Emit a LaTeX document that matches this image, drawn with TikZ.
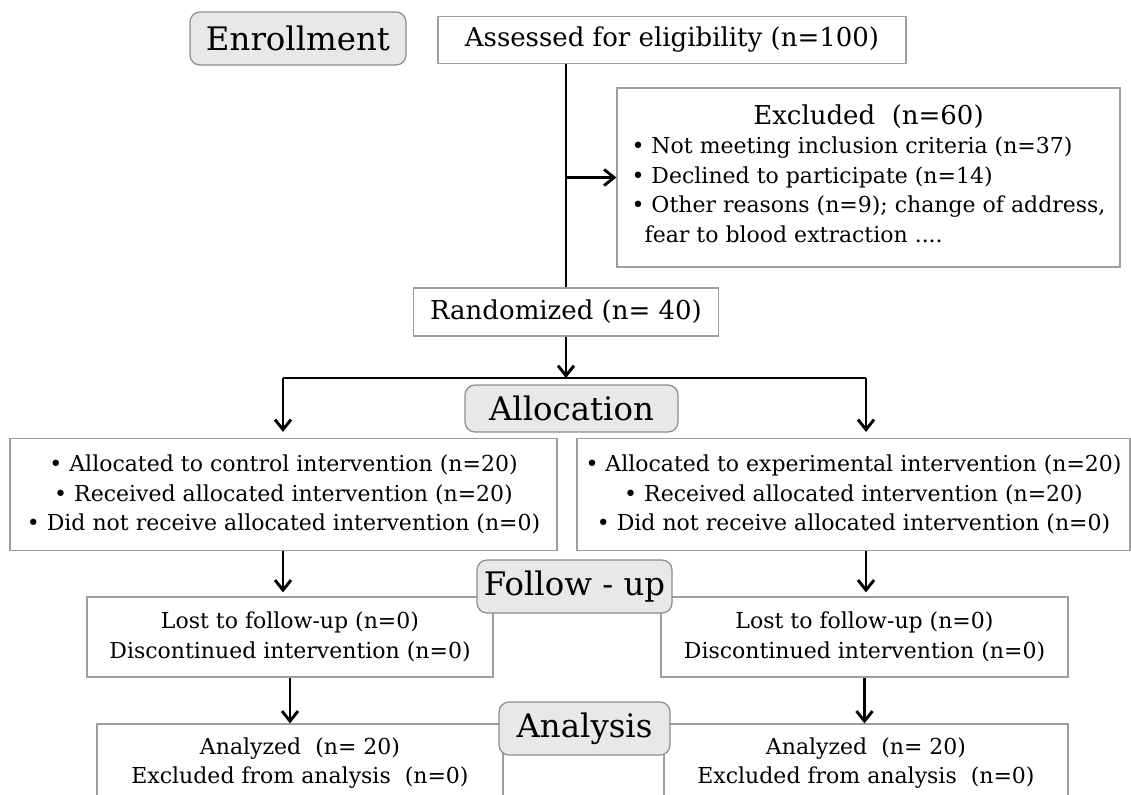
\documentclass[tikz,border=0pt]{standalone}
\usepackage{fontspec}
\setmainfont{DejaVu Serif}
\usetikzlibrary{arrows.meta}

\definecolor{boxgray}{gray}{0.62}
\definecolor{stagegray}{gray}{0.91}
\definecolor{stageline}{gray}{0.55}

\tikzset{
  box/.style={draw=boxgray, line width=0.6pt, fill=white, inner sep=0pt, align=center,
    font=\fontsize{11}{14.7}\selectfont},
  bigbox/.style={box, font=\fontsize{13}{15}\selectfont},
  stage/.style={draw=stageline, fill=stagegray, rounded corners=5pt, line width=0.6pt,
    inner sep=0pt, font=\fontsize{16.2}{19}\selectfont},
  trunk/.style={line width=1.45pt},
  flow/.style={trunk, -{Straight Barb[length=5pt,width=8pt]}}
}

\begin{document}
\begin{tikzpicture}[x=0.5pt, y=-0.5pt]
    \clip (0,0) rectangle (1131,794);

    \node[stage, minimum width=108pt, minimum height=26.5pt] (enroll) at (298,38.5) {Enrollment};
    \node[bigbox, minimum width=234pt, minimum height=23.5pt] (assess) at (672,40) {Assessed for eligibility (n=100)};
    \node[box, minimum width=251.5pt, minimum height=89.5pt] (excl) at (868.5,177.5) {%
        \begin{tabular}{@{}l@{}}
        \multicolumn{1}{@{}c@{}}{\fontsize{13}{14.7}\selectfont Excluded\ \ (n=60)}\\
        \textbullet\ Not meeting inclusion criteria (n=37)\\
        \textbullet\ Declined to participate (n=14)\\
        \textbullet\ Other reasons (n=9); change of address,\\
        \hspace*{0.6em}fear to blood extraction ....
        \end{tabular}};
    \node[bigbox, minimum width=152.5pt, minimum height=24pt] (rand) at (566,312) {Randomized (n= 40)};

    \node[box, minimum width=273.5pt, minimum height=56pt] (ctrl) at (283.5,494.5) {%
        \textbullet\ Allocated to control intervention (n=20)\\
        \textbullet\ Received allocated intervention (n=20)\\
        \textbullet\ Did not receive allocated intervention (n=0)};
    \node[box, minimum width=276.5pt, minimum height=56pt] (exper) at (853.5,494.5) {%
        \textbullet\ Allocated to experimental intervention (n=20)\\
        \textbullet\ Received allocated intervention (n=20)\\
        \textbullet\ Did not receive allocated intervention (n=0)};
    \node[stage, minimum width=106.5pt, minimum height=23.5pt] (alloc) at (571.5,408.5) {Allocation};

    \node[box, minimum width=203pt, minimum height=40pt] (lostL) at (290,637) {%
        Lost to follow-up (n=0)\\
        Discontinued intervention (n=0)};
    \node[box, minimum width=203.5pt, minimum height=40pt] (lostR) at (864.5,637) {%
        Lost to follow-up (n=0)\\
        Discontinued intervention (n=0)};
    \node[stage, minimum width=97.5pt, minimum height=26.5pt] (follow) at (574.5,586.5) {Follow - up};

    \node[box, minimum width=203pt, minimum height=39pt] (anaL) at (300,763) {%
        Analyzed\ \ (n= 20)\\
        Excluded from analysis\ \ (n=0)};
    \node[box, minimum width=202pt, minimum height=39pt] (anaR) at (866,763) {%
        Analyzed\ \ (n= 20)\\
        Excluded from analysis\ \ (n=0)};
    \node[stage, minimum width=85.5pt, minimum height=26.5pt] (analysis) at (584.5,728.5) {Analysis};

    \coordinate (splitL) at (283,378);
    \coordinate (splitR) at (866,378);

    \draw[trunk] (assess.south -| rand.north) -- (rand.north);
    \draw[flow] (excl.west -| rand.north) -- (excl.west);
    \draw[flow] (rand.south) -- (rand.south |- splitL);
    \draw[trunk] (splitL) -- (splitR);
    \draw[flow] (splitL) -- ([yshift=3pt]ctrl.north -| splitL);
    \draw[flow] (splitR) -- ([yshift=3pt]exper.north -| splitR);
    \draw[flow] (ctrl.south -| splitL) -- ([yshift=2pt]lostL.north -| splitL);
    \draw[flow] (exper.south -| splitR) -- ([yshift=2pt]lostR.north -| splitR);
    \draw[flow] (lostL.south) -- (lostL.south |- anaL.north);
    \draw[flow] (lostR.south) -- (lostR.south |- anaR.north);
\end{tikzpicture}
\end{document}
